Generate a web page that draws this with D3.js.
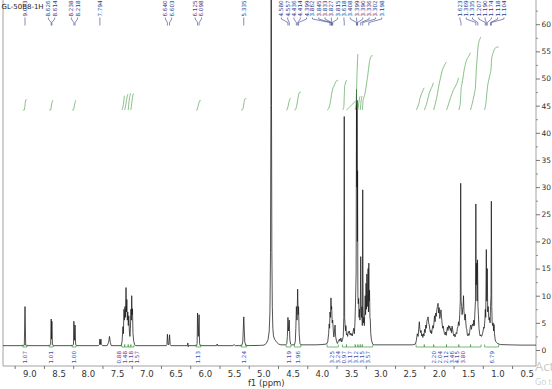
<!DOCTYPE html>
<html><head><meta charset="utf-8">
<script src="https://cdn.jsdelivr.net/npm/d3@7"></script>
<style>html,body{margin:0;padding:0;background:#fff;overflow:hidden}</style>
</head><body>
<svg id="c" width="552" height="389"></svg>
<script>
const title = "GL-50B8-1H";
const xLabel = "f1 (ppm)";
const xTickValues = [9.0,8.5,8.0,7.5,7.0,6.5,6.0,5.5,5.0,4.5,4.0,3.5,3.0,2.5,2.0,1.5,1.0,0.5];
const yTickValues = [0,5,10,15,20,25,30,35,40,45,50,55,60];

// spectrum trace, [ppm, intensity]
const traceAromatic = [
 [9.45,0.8],[9.10,0.8],[9.085,0.9],[9.073,8.0],[9.062,0.9],[9.05,0.8],
 [8.65,0.8],[8.635,1.0],[8.626,5.7],[8.620,2.0],[8.614,5.3],[8.605,1.0],[8.59,0.8],
 [8.26,0.8],[8.245,1.0],[8.238,5.3],[8.228,1.8],[8.218,4.6],[8.208,1.0],[8.19,0.8],
 [7.82,0.8],[7.802,1.0],[7.794,2.0],[7.785,1.0],[7.776,2.0],[7.768,1.0],[7.75,0.8],
 [7.67,0.8],[7.645,1.4],[7.63,2.5],[7.615,1.4],[7.60,0.8],
 [7.43,0.8],[7.415,1.5],[7.40,4.3],[7.392,3.0],[7.382,7.5],[7.375,5.5],[7.365,8.0],[7.357,6.0],
 [7.347,11.5],[7.340,7.0],[7.333,9.3],[7.325,5.5],[7.317,7.0],[7.308,4.5],[7.300,6.3],[7.290,3.5],
 [7.280,2.5],[7.272,4.0],[7.263,7.5],[7.256,5.5],[7.250,10.0],[7.243,6.5],[7.237,7.6],[7.228,3.0],
 [7.215,1.6],[7.20,1.0],[7.18,0.8],
 [6.66,0.8],[6.648,1.0],[6.640,2.9],[6.628,1.0],[6.615,1.0],[6.603,2.8],[6.592,1.0],[6.58,0.8],
 [6.30,0.8],[6.29,1.3],[6.284,0.6],[6.278,0.8],
 [6.14,0.8],[6.132,1.2],[6.125,6.8],[6.112,2.5],[6.098,6.5],[6.090,1.2],[6.08,0.8],
 [5.80,0.8],[5.79,1.1],[5.78,0.8],
 [5.52,0.8],[5.50,1.0],[5.48,0.8],
 [5.37,0.8],[5.352,1.5],[5.335,6.1],[5.318,1.5],[5.30,0.8],[5.05,0.85]
];
const traceSolvent = [
 [4.99,0.9],[4.95,1.2],[4.92,1.9],[4.90,3.5],[4.888,7],[4.878,18],[4.871,45],[4.866,95],[4.861,45],
 [4.855,18],[4.847,8],[4.838,4.0],[4.827,2.6],[4.81,2.0],[4.79,1.7],[4.77,1.4],[4.74,1.1],[4.70,0.95]
];
const traceSugar = [
 [4.62,0.95],[4.60,1.2],[4.590,2.5],[4.580,6.0],[4.570,3.5],[4.557,5.5],[4.548,2.0],[4.535,1.1],[4.52,0.95],
 [4.47,0.95],[4.455,1.5],[4.445,4.0],[4.436,8.0],[4.425,5.5],[4.414,11.2],[4.406,6.5],[4.399,8.0],[4.388,3.0],[4.375,1.2],[4.36,0.95],
 [4.10,0.95],[4.00,1.0],[3.92,1.1],[3.90,1.5],[3.885,3.0],[3.875,4.8],[3.868,4.0],[3.862,7.0],[3.853,6.0],
 [3.845,9.6],[3.838,7.5],[3.833,8.0],[3.824,5.0],[3.815,5.5],[3.805,3.5],[3.795,2.4],[3.785,3.5],[3.775,4.6],
 [3.765,2.5],[3.75,1.6],[3.735,1.2],[3.72,1.6],[3.70,2.0],[3.69,1.6],[3.675,2.2],[3.66,1.5],[3.645,2.0],
 [3.635,2.5],[3.625,6],[3.618,43],[3.611,6],[3.603,4.4],[3.596,3.5],[3.590,4.5],[3.580,2.8],[3.570,3.0],
 [3.560,2.5],[3.550,3.4],[3.540,3.2],[3.530,3.5],[3.520,2.8],[3.510,3.1],[3.500,2.7],[3.490,3.0],[3.480,2.6],
 [3.470,3.2],[3.455,4.0],[3.445,3.0],[3.435,5.0],[3.425,9.0],[3.415,14],[3.408,48],[3.403,30],[3.399,46],
 [3.394,20],[3.390,33],[3.385,10],[3.378,8.5],[3.372,9.5],[3.365,6.0],[3.358,7.5],[3.350,5.5],[3.343,8.0],
 [3.336,17.2],[3.330,7.0],[3.322,6.0],[3.316,8.0],[3.309,4.5],[3.302,29.5],[3.296,8.0],[3.290,5.0],[3.282,6.0],
 [3.275,4.5],[3.268,7.0],[3.260,10.0],[3.253,6.5],[3.245,12.3],[3.238,7.5],[3.231,14.0],[3.224,8.0],[3.217,11.0],
 [3.210,15.0],[3.204,7.0],[3.198,16.0],[3.192,9.0],[3.186,11.0],[3.179,6.0],[3.172,5.5],[3.165,3.0],[3.155,2.0],
 [3.14,1.3],[3.125,1.0],[3.10,0.95]
];
const traceAliphatic = [
 [2.45,0.95],[2.40,1.1],[2.385,1.8],[2.37,3.0],[2.355,2.5],[2.345,4.0],[2.335,5.2],[2.325,3.8],[2.315,3.2],
 [2.305,3.6],[2.295,2.6],[2.285,2.9],[2.275,2.3],[2.265,3.0],[2.255,2.6],[2.245,3.8],[2.235,3.2],[2.225,4.6],
 [2.215,4.0],[2.205,5.3],[2.195,5.8],[2.185,6.1],[2.175,5.0],[2.165,4.6],[2.155,3.8],[2.145,3.2],[2.135,3.6],
 [2.125,3.0],[2.115,3.8],[2.105,4.5],[2.095,4.0],[2.085,5.0],[2.075,6.3],[2.065,5.2],[2.055,6.8],[2.045,6.2],
 [2.035,7.5],[2.025,8.0],[2.015,8.6],[2.005,6.8],[1.995,7.8],[1.985,5.8],[1.975,6.5],[1.965,7.4],[1.955,6.0],
 [1.945,4.8],[1.935,4.0],[1.925,4.4],[1.915,3.5],[1.905,3.0],[1.895,2.8],[1.885,3.3],[1.875,2.7],[1.865,3.5],
 [1.855,4.2],[1.845,3.6],[1.835,4.5],[1.825,4.0],[1.815,4.4],[1.805,3.6],[1.795,4.0],[1.785,3.2],[1.775,4.4],
 [1.765,3.8],[1.755,3.0],[1.745,2.6],[1.735,2.9],[1.725,2.4],[1.715,2.8],[1.705,3.2],[1.695,3.0],[1.685,4.0],
 [1.675,4.3],[1.665,5.2],[1.655,4.5],[1.645,6.5],[1.635,9],[1.628,30.7],[1.621,9],[1.612,8.0],[1.604,6.5],
 [1.596,7.5],[1.588,8.0],[1.580,10.0],[1.572,7.0],[1.564,6.5],[1.556,5.5],[1.548,6.6],[1.540,5.0],[1.532,4.0],
 [1.524,3.8],[1.515,2.8],[1.505,2.6],[1.495,3.0],[1.485,2.7],[1.475,3.2],[1.465,4.2],[1.455,4.6],[1.445,3.8],
 [1.435,4.5],[1.425,4.8],[1.415,4.4],[1.405,5.5],[1.395,4.5],[1.385,7.0],[1.376,9.0],[1.369,26.9],[1.362,12],
 [1.355,16],[1.348,9],[1.340,16.6],[1.333,8],[1.325,6.5],[1.315,4.0],[1.305,3.0],[1.295,2.6],[1.285,2.8],
 [1.275,2.5],[1.265,2.6],[1.255,3.0],[1.245,3.5],[1.235,4.2],[1.225,4.0],[1.215,5.5],[1.207,7.5],[1.200,6.0],
 [1.190,18.5],[1.183,9.0],[1.174,15.0],[1.166,7.0],[1.158,8.0],[1.150,6.0],[1.142,5.5],[1.134,6.0],[1.126,5.0],
 [1.118,8.0],[1.110,10],[1.104,27.4],[1.097,8.0],[1.090,5.0],[1.082,4.5],[1.074,5.0],[1.066,3.5],[1.058,4.7],
 [1.050,3.0],[1.040,2.0],[1.030,1.6],[1.015,1.4],[1.00,1.2],[0.95,1.0],[0.80,0.95],[0.60,0.9],[0.31,0.9]
];

// peak picking labels (ppm), grouped as in the multiplet trees
const peakLabelGroups = [
 [9.073],[8.626,8.614],[8.238,8.218],[7.794],[6.640,6.603],[6.125,6.098],[5.335],
 [4.580,4.557,4.436,4.414,4.399],
 [3.862,3.845,3.833,3.827,3.815,3.618,3.408,3.399,3.390,3.336,3.302,3.198],
 [1.623,1.369,1.335,1.207,1.190,1.174,1.118,1.104]
];

// integrals: region start/end (ppm), curve rise (intensity units), value label, label cluster
const integralStart = [9.11,8.66,8.27,7.42,7.37,7.31,7.265,6.15,5.38,4.61,4.47,3.91,3.65,3.58,3.43,3.385,3.345,3.31,2.39,2.25,2.09,1.87,1.66,1.46,1.22];
const integralEnd   = [9.04,8.59,8.20,7.37,7.31,7.265,7.21,6.07,5.29,4.53,4.36,3.72,3.58,3.43,3.385,3.345,3.31,3.13,2.25,2.09,1.87,1.66,1.46,1.28,0.98];
const integralRise  = [1.84,1.72,1.72,2.6,2.9,3.0,3.0,1.72,2.1,2.15,3.3,5.5,5.5,1.6,10.3,2.5,2.5,10,4.05,5,8.8,5.9,10.5,13.4,11.6];
const integralText  = ["1.07","1.01","1.00","0.88","1.48","1.18","1.57","1.13","1.24","1.19","1.96","3.25","3.24","0.97","3.17","3.12","3.15","3.57","2.20","2.04","2.12","3.46","4.15","3.80","6.79"];
const integralCluster = [0,1,2,3,3,3,3,4,5,6,7,8,8,8,8,8,8,8,9,9,9,9,9,9,10];
const integralBaseLevel = 44.2;

const svg = d3.select("#c");
const plotL = 3, plotR = 536, plotT = 0, plotB = 366;
const x = d3.scaleLinear().domain([9.0, 0.5]).range([29.3, 526.7]);
const y = d3.scaleLinear().domain([0, 60]).range([350, 24.2]);

const font = "DejaVu Sans, Verdana, sans-serif";

svg.append("defs").append("clipPath").attr("id","clip")
  .append("rect").attr("x",plotL).attr("y",plotT).attr("width",plotR-plotL).attr("height",plotB-plotT);

// frame
svg.append("path").attr("d",`M${plotL},${plotT}V${plotB}H${plotR}V${plotT}`)
  .attr("fill","none").attr("stroke","#8a8a8a").attr("stroke-width",0.8);

// title
svg.append("text").attr("x",1.5).attr("y",8.5).attr("font-family",font).attr("font-size",7)
  .attr("fill","#222").text(title);

// x axis
const xMinor = d3.range(9.25, 0.3, -0.5);
const gx = svg.append("g").attr("transform",`translate(0,${plotB})`)
  .call(d3.axisBottom(x).tickValues(xTickValues).tickFormat(d3.format(".1f")).tickSize(0).tickPadding(5));
gx.select(".domain").remove();
gx.selectAll("text").attr("font-family",font).attr("font-size",8.5).attr("fill","#333");
const gxm = svg.append("g").attr("transform",`translate(0,${plotB})`)
  .call(d3.axisBottom(x).tickValues(xMinor).tickFormat("").tickSize(3));
gxm.select(".domain").remove();
gxm.selectAll("line").attr("stroke","#555").attr("stroke-width",0.8);
svg.append("text").attr("x",x(4.95)).attr("y",386).attr("text-anchor","middle")
  .attr("font-family",font).attr("font-size",8.5).attr("fill","#333").text(xLabel);

// y axis (right)
const gy = svg.append("g").attr("transform",`translate(${plotR},0)`)
  .call(d3.axisRight(y).tickValues(yTickValues).tickSize(4).tickPadding(1.5));
gy.select(".domain").remove();
gy.selectAll("line").attr("stroke","#555").attr("stroke-width",0.8);
gy.selectAll("text").attr("font-family",font).attr("font-size",7.5).attr("fill","#333");
const gym = svg.append("g").attr("transform",`translate(${plotR},0)`)
  .call(d3.axisRight(y).tickValues(d3.range(2.5, 62.6, 5)).tickFormat("").tickSize(2));
gym.select(".domain").remove();
gym.selectAll("line").attr("stroke","#666").attr("stroke-width",0.7);

// spectrum
const trace = [].concat(traceAromatic, traceSolvent, traceSugar, traceAliphatic);
const line = d3.line().x(d => x(d[0])).y(d => y(d[1]));
const plot = svg.append("g").attr("clip-path","url(#clip)");
plot.append("path").datum(trace).attr("d",line).attr("fill","none")
  .attr("stroke","#1a1a1a").attr("stroke-width",0.75).attr("stroke-linejoin","round");

// integral curves (cumulative area of the trace within each region)
const integralColor = "#56a556";
integralStart.forEach((a, i) => {
  const b = integralEnd[i];
  const pts = trace.filter(p => p[0] <= a && p[0] >= b);
  const base = 0.9;
  let cum = 0; const cs = [[a, 0]];
  let prev = [a, pts.length ? pts[0][1] : base];
  pts.forEach(p => {
    cum += (Math.max(prev[1]-base,0) + Math.max(p[1]-base,0)) / 2 * (prev[0]-p[0]);
    cs.push([p[0], cum]); prev = p;
  });
  cs.push([b, cum]);
  const total = cum || 1;
  const curve = cs.map(c => [c[0], integralBaseLevel + integralRise[i] * c[1] / total]);
  plot.append("path").datum(curve).attr("d", d3.line().x(d => x(d[0])).y(d => y(d[1])).curve(d3.curveMonotoneX))
    .attr("fill","none").attr("stroke",integralColor).attr("stroke-width",0.7);
  const yb = 347;
  plot.append("path").attr("d",`M${x(a)},${yb-2.5}V${yb}H${x(b)}V${yb-2.5}`)
    .attr("fill","none").attr("stroke","#3f963f").attr("stroke-width",0.7);
});

// integral labels: contiguous regions share a packed label cluster
const labelSpacing = 5.9;
const clusters = d3.groups(integralStart.map((a,i) => i), i => integralCluster[i]);
const lab = [];
clusters.forEach(([k, idx]) => {
  const lo = d3.min(idx, i => x(integralStart[i])), hi = d3.max(idx, i => x(integralEnd[i]));
  const c = (lo + hi) / 2;
  idx.forEach((i, j) => lab.push({t: integralText[i], x: c + (j - (idx.length-1)/2) * labelSpacing}));
});
svg.selectAll(".ilab").data(lab).enter().append("text")
  .attr("transform", d => `translate(${d.x},351) rotate(-90)`)
  .attr("text-anchor","end").attr("dominant-baseline","central")
  .attr("font-family",font).attr("font-size",5.6).attr("fill","#4848a8").text(d => d.t);

// peak labels with multiplet trees
const peakColor = "#2e3a8e";
const peakSpacing = 6.3;
peakLabelGroups.forEach(g => {
  const px = g.map(v => x(v));
  const c = d3.mean(px);
  g.forEach((v, i) => {
    const lx = c + (i - (g.length-1)/2) * peakSpacing;
    svg.append("text").attr("transform",`translate(${lx},16.5) rotate(-90)`)
      .attr("text-anchor","start").attr("dominant-baseline","central")
      .attr("font-family",font).attr("font-size",5.6).attr("fill",peakColor).text(v.toFixed(3));
    svg.append("path").attr("d",`M${lx},17.5V19L${px[i]},22.5V25.5`)
      .attr("fill","none").attr("stroke",peakColor).attr("stroke-width",0.6);
  });
});

// screenshot watermark residue at the bottom right
svg.append("text").attr("x",535).attr("y",371).attr("font-family","Open Sans, sans-serif")
  .attr("font-size",13).attr("fill","#c9c9c9").text("Activate Windows");
svg.append("text").attr("x",535).attr("y",385).attr("font-family","Open Sans, sans-serif")
  .attr("font-size",8.5).attr("fill","#cfcfcf").text("Go to Settings to activate Windows.");
</script>
</body></html>
